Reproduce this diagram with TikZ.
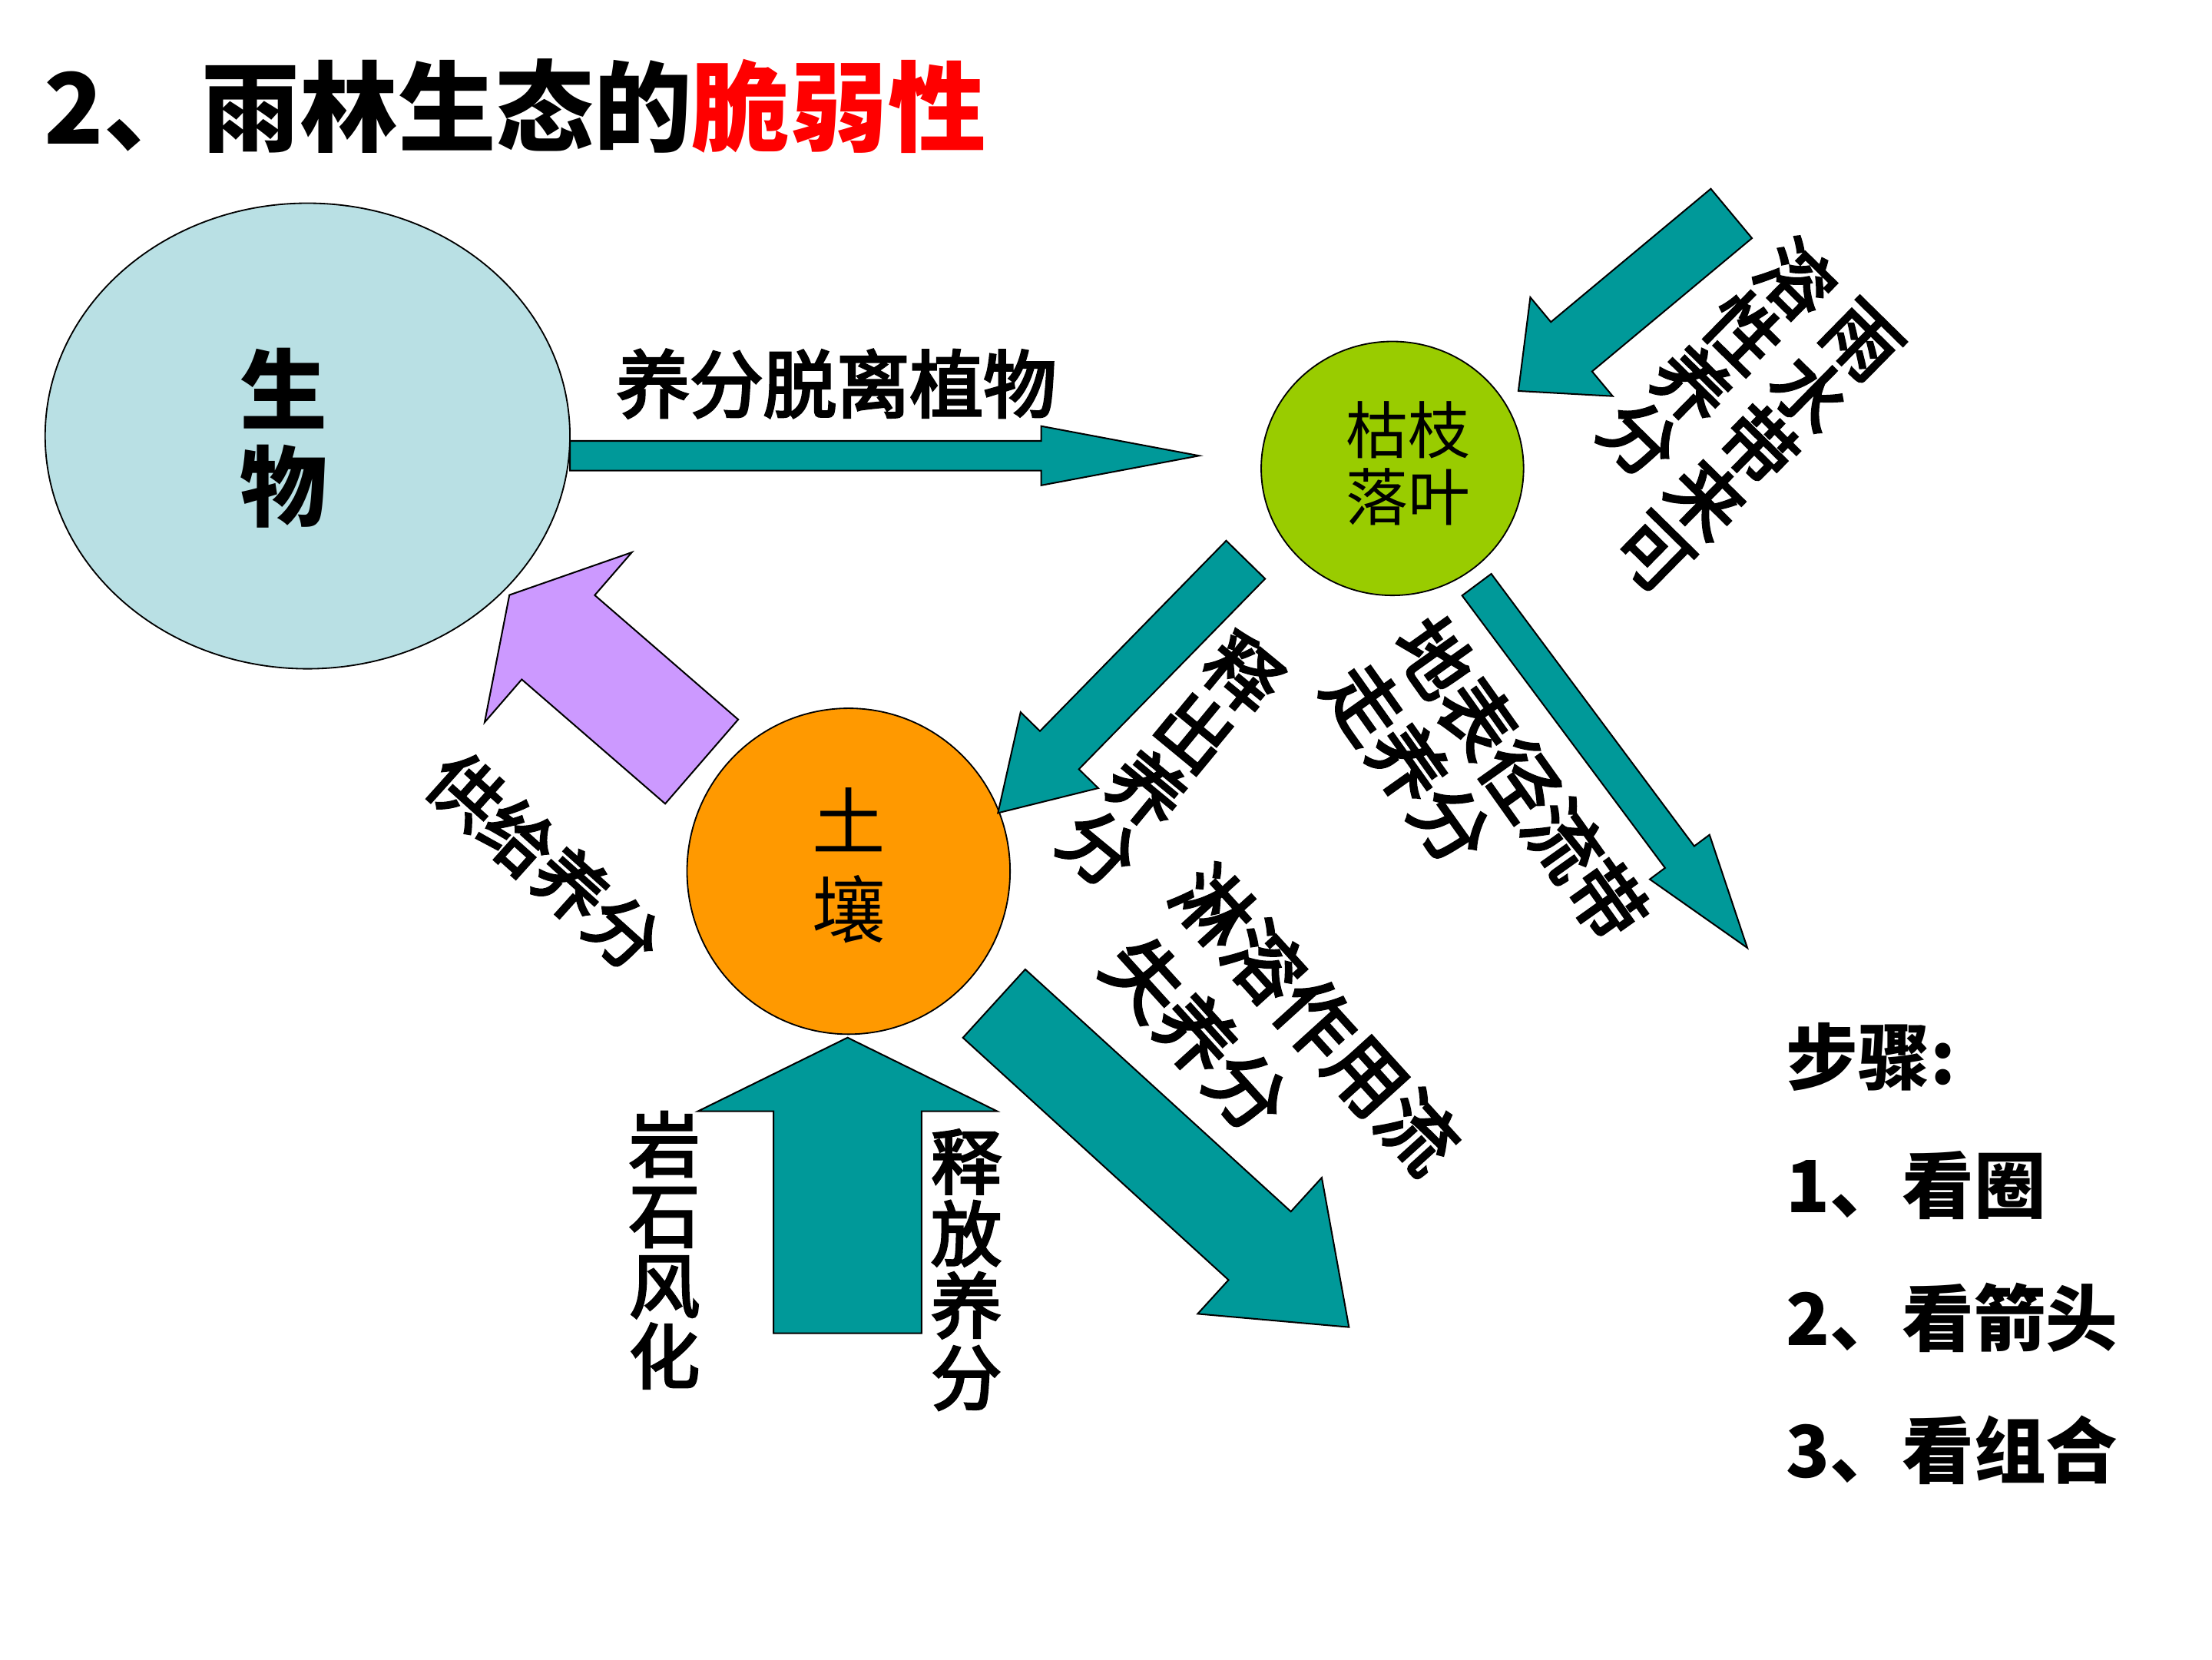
\documentclass[tikz,border=0pt]{standalone}
\usepackage{fontspec}
\newfontfamily\cjk{Noto Sans CJK SC}
\newfontfamily\cjkm{Noto Sans CJK SC}[FakeBold=3.5]
\usetikzlibrary{shapes.geometric,calc}
\definecolor{bioblue}{RGB}{185,224,228}
\definecolor{litgreen}{RGB}{153,204,0}
\definecolor{soilorange}{RGB}{255,153,0}
\definecolor{arrowteal}{RGB}{0,153,153}
\definecolor{arrowpurple}{RGB}{204,153,255}
\newcommand{\setfs}[2]{\fontsize{#1}{#2}\selectfont}
% #1 start, #2 tip, #3 half shaft width, #4 half head width, #5 head length, #6 fill
\newcommand{\blockarrow}[6]{%
  \coordinate (J) at ($(#2)!#5!(#1)$);
  \draw[blockarr, fill=#6] ($(#1)!#3!90:(#2)$) -- ($(J)!#3!-90:(#1)$) -- ($(J)!#4!-90:(#1)$) -- (#2) -- ($(J)!#4!90:(#1)$) -- ($(J)!#3!90:(#1)$) -- ($(#1)!#3!-90:(#2)$) -- cycle;
}
\tikzset{
  outl/.style={draw=black, line width=1pt, inner sep=0pt},
  blockarr/.style={draw=black, line width=1.1pt, line join=miter},
  lbl/.style={inner sep=0pt, text=black},
  midlbl/.style={lbl, font=\cjkm\setfs{52}{52}},
}
\begin{document}
\begin{tikzpicture}[x=1pt,y=-1pt]
\useasboundingbox (0,0) rectangle (1568,1176);
\fill[white] (0,0) rectangle (1568,1176);

% title
\node[lbl, anchor=west, font=\cjk\bfseries\setfs{69.5}{70}] (title) at (31,75) {2、雨林生态的\textcolor{red}{脆弱性}};

% circles
\node[outl, ellipse, fill=bioblue, minimum width=372pt, minimum height=330pt] (bio) at (218,309) {};
\node[outl, ellipse, fill=litgreen, minimum width=186pt, minimum height=180pt] (lit) at (987,332) {};
\node[outl, ellipse, fill=soilorange, minimum width=229pt, minimum height=231pt] (soil) at (601.5,617.5) {};

\node[lbl, font=\cjk\bfseries\setfs{62}{69}, align=center] (biot) at (201,310.5) {生\\物};
\node[lbl, font=\cjk\setfs{44}{47}, align=center] (litt) at (998,328.5) {枯枝\\落叶};
\node[lbl, font=\cjk\setfs{52}{63}, align=center] (soilt) at (602,613.5) {土\\壤};

% arrow end points
\coordinate (aS) at (404,323);      \coordinate (aE) at (850,323);
\coordinate (bS) at (1227.3,151.3); \coordinate (bE) at (1076.3,277.1);
\coordinate (cS) at (883,396.7);    \coordinate (cE) at (707.4,576.2);
\coordinate (dS) at (1046.75,414.4);\coordinate (dE) at (1238.6,671.8);
\coordinate (pS) at (497.4,539.8);  \coordinate (pE) at (361.1,421.7);
\coordinate (uS) at (600.8,944.9);  \coordinate (uE) at (600.8,735.4);
\coordinate (lS) at (704.65,711.25);\coordinate (lE) at (956.2,940.6);

\blockarrow{aS}{aE}{10.5pt}{21pt}{112pt}{arrowteal}
\blockarrow{bS}{bE}{22.8pt}{45.6pt}{49pt}{arrowteal}
\blockarrow{cS}{cE}{19.3pt}{38.5pt}{62.3pt}{arrowteal}
\blockarrow{dS}{dE}{12.9pt}{26.4pt}{80.3pt}{arrowteal}
\blockarrow{pS}{pE}{39.5pt}{79.7pt}{45.8pt}{arrowpurple}
\blockarrow{uS}{uE}{52.5pt}{106.1pt}{52.2pt}{arrowteal}
\blockarrow{lS}{lE}{32.8pt}{65.3pt}{85.6pt}{arrowteal}

% labels
\node[midlbl] (la) at (593,272) {养分脱离植物};
\node[midlbl, rotate=-44.5, font=\cjkm\setfs{52}{52.7}, align=center] (lb1) at (1245.5,317) {雨\\水\\带\\来\\可};
\node[midlbl, rotate=-44.5, font=\cjkm\setfs{52}{52.7}, align=center] (lb2) at (1218,254) {溶\\性\\养\\分};
\node[midlbl, rotate=-39.5, font=\cjkm\setfs{52}{53.5}, align=center] (lc) at (830,539) {释\\出\\养\\分};
\node[midlbl, rotate=-54.6, font=\cjkm\setfs{53}{53}] (ld1) at (1078,552) {地表径流带};
\node[midlbl, rotate=-54.6, font=\cjkm\setfs{53}{53}] (ld2) at (998,541) {走养分};
\node[midlbl, rotate=-47.8, font=\cjkm\setfs{54}{54}] (ll1) at (933,722) {淋溶作用流};
\node[midlbl, rotate=-47.8, font=\cjkm\setfs{54}{54}] (ll2) at (848,733) {失养分};
\node[midlbl, rotate=-41.9, font=\cjkm\setfs{50}{50}] (lp) at (386.3,610.5) {供给养分};
\node[midlbl, font=\cjkm\setfs{50}{50}, align=center] (lu1) at (471,886) {岩\\石\\风\\化};
\node[midlbl, font=\cjkm\setfs{50}{51}, align=center] (lu2) at (685,900) {释\\放\\养\\分};

% steps
\node[lbl, anchor=west, font=\cjk\bfseries\setfs{51}{51}] (s0) at (1266,749) {步骤:};
\node[lbl, anchor=west, font=\cjk\bfseries\setfs{51}{51}] (s1) at (1266,840) {1、看圈};
\node[lbl, anchor=west, font=\cjk\bfseries\setfs{51}{51}] (s2) at (1266,934) {2、看箭头};
\node[lbl, anchor=west, font=\cjk\bfseries\setfs{51}{51}] (s3) at (1266,1028) {3、看组合};
\end{tikzpicture}
\end{document}
